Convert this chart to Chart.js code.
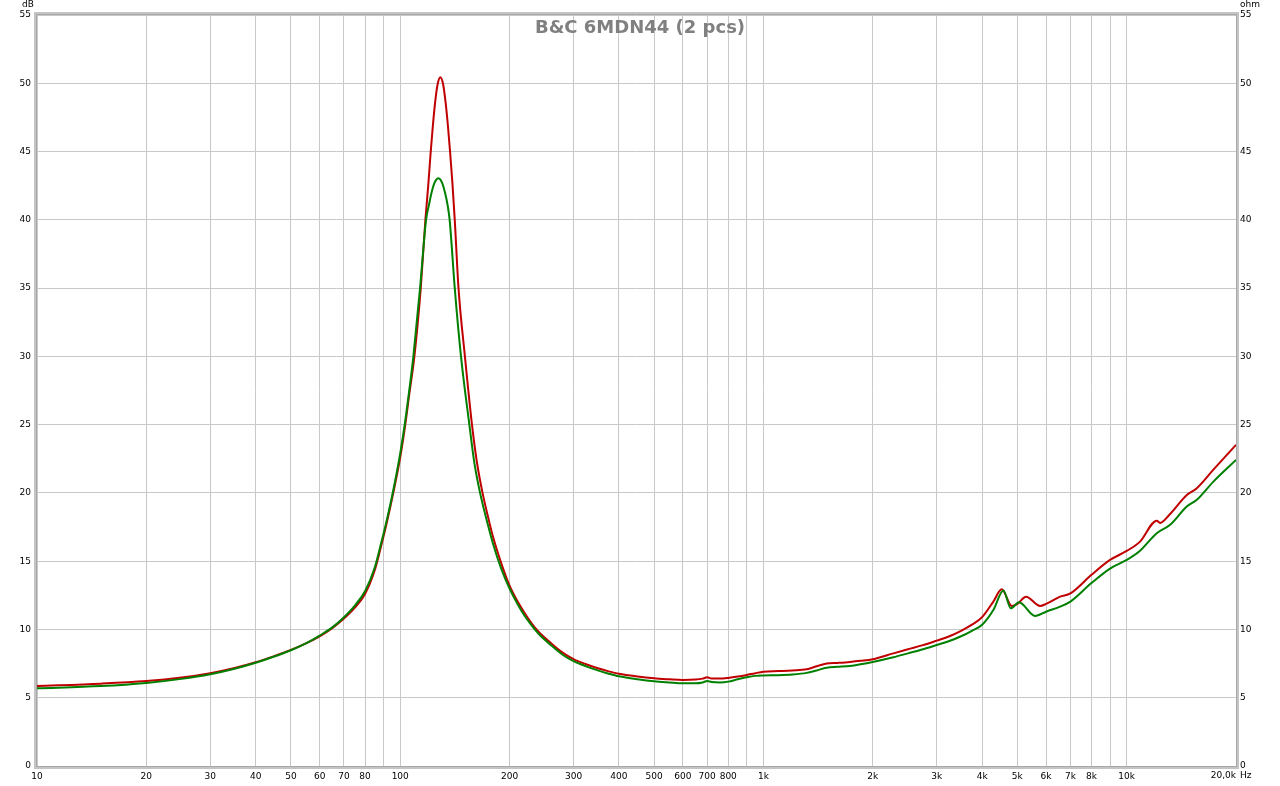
<!DOCTYPE html>
<html>
<head>
<meta charset="utf-8">
<script src="https://cdn.jsdelivr.net/npm/chart.js@4.4.0/dist/chart.umd.min.js"></script>
<style>
  body { margin: 0; background: #fff; }
  canvas { display: block; }
</style>
</head>
<body>
<canvas id="chart" width="1280" height="786"></canvas>
<script>
// impedance curves (Hz / ohm)
let redFreq = [10, 15, 20, 25, 30, 35, 40, 45, 50, 55,
  60, 65, 70, 75, 80, 85, 88, 92, 95.7, 100,
  103, 106, 109.4, 113.9, 117.3, 119.5, 121.3, 123, 124.7, 126.8,
  129, 131.2, 133.4, 135.3, 137.2, 139.3, 141.3, 144.7, 150.7, 157.6,
  162.5, 168.5, 175, 180, 190, 200, 210, 220, 230, 240,
  260, 280, 300, 325, 350, 375, 400, 450, 500, 550,
  600, 650, 680, 700, 720, 760, 800, 850, 900, 950,
  1000, 1100, 1200, 1315, 1400, 1494, 1600, 1732, 1850, 2000,
  2279, 2500, 2750, 3000, 3250, 3500, 3750, 4000, 4295, 4529,
  4829, 5000, 5284, 5776, 6000, 6556, 7000, 8000, 9000, 10000,
  10886, 12100, 12360, 13170, 14640, 15600, 17330, 20000];
let redVals = [5.86, 6.03, 6.22, 6.48, 6.8, 7.18, 7.6, 8.05, 8.5, 8.98,
  9.5, 10.1, 10.8, 11.6, 12.6, 14.3, 15.8, 17.9, 20.0, 22.6,
  24.8, 27.3, 30, 35, 40, 42.6, 44.95, 46.9, 48.55, 49.95,
  50.45, 49.95, 48.55, 46.9, 44.95, 42.6, 40, 35, 30, 25,
  22.3, 20, 18.1, 16.8, 14.8, 13.2, 12.1, 11.2, 10.45, 9.85,
  9.0, 8.3, 7.82, 7.45, 7.16, 6.93, 6.75, 6.55, 6.42, 6.35,
  6.3, 6.33, 6.4, 6.5, 6.4, 6.4, 6.45, 6.55, 6.67, 6.8,
  6.9, 6.95, 7.0, 7.08, 7.3, 7.5, 7.55, 7.62, 7.7, 7.82,
  8.25, 8.55, 8.85, 9.18, 9.5, 9.9, 10.35, 10.9, 12.04, 12.94,
  11.72, 11.87, 12.4, 11.72, 11.87, 12.4, 12.64, 14.0, 15.09, 15.75,
  16.43, 17.97, 17.8, 18.46, 19.85, 20.34, 21.7, 23.52];

let greenFreq = [10, 15, 20, 25, 30, 35, 40, 45, 50, 55,
  60, 65, 70, 75, 80, 85, 88, 92, 95.7, 100,
  103, 106, 108.7, 113.4, 117.8, 120, 122, 124, 125.7, 127.3,
  129, 130.7, 132.8, 135, 136.8, 141.3, 147, 155, 160, 165.9,
  175, 180, 190, 200, 210, 220, 230, 240, 260, 280,
  300, 325, 350, 375, 400, 450, 500, 550, 600, 650,
  680, 700, 720, 760, 800, 850, 900, 950, 1000, 1100,
  1200, 1315, 1400, 1494, 1600, 1732, 1850, 2000, 2279, 2500,
  2750, 3000, 3250, 3500, 3750, 4000, 4295, 4577, 4800, 5054,
  5596, 6000, 6556, 7000, 8000, 9000, 10000, 10886, 12100, 13170,
  14640, 15600, 17330, 20000];
let greenVals = [5.69, 5.85, 6.08, 6.38, 6.72, 7.12, 7.56, 8.02, 8.48, 8.98,
  9.55, 10.15, 10.9, 11.75, 12.8, 14.5, 16.0, 18.1, 20.2, 22.9,
  25.1, 27.6, 30, 35, 40, 41.1, 42.0, 42.65, 42.95, 43.05,
  42.95, 42.65, 42.0, 41.1, 40, 35, 30, 25, 22.2, 20,
  17.5, 16.3, 14.4, 13.0, 11.9, 11.0, 10.3, 9.7, 8.85, 8.15,
  7.68, 7.3, 7.0, 6.76, 6.57, 6.35, 6.2, 6.12, 6.06, 6.06,
  6.12, 6.23, 6.15, 6.12, 6.18, 6.35, 6.5, 6.6, 6.63, 6.65,
  6.7, 6.82, 7.0, 7.2, 7.26, 7.33, 7.45, 7.62, 7.96, 8.25,
  8.55, 8.86, 9.15, 9.5, 9.9, 10.35, 11.43, 12.85, 11.55, 12.0,
  10.99, 11.3, 11.67, 12.04, 13.4, 14.46, 15.09, 15.77, 17.05, 17.66,
  19.0, 19.49, 20.83, 22.42];

let xTicks = [10, 20, 30, 40, 50, 60, 70, 80, 90, 100, 200, 300, 400, 500, 600, 700, 800, 900,
  1000, 2000, 3000, 4000, 5000, 6000, 7000, 8000, 9000, 10000, 20000];
let xLabels = ['10', '20', '30', '40', '50', '60', '70', '80', '', '100', '200', '300', '400', '500', '600', '700', '800', '',
  '1k', '2k', '3k', '4k', '5k', '6k', '7k', '8k', '', '10k', ''];

let title = 'B&C 6MDN44 (2 pcs)';
let tickFont = { family: 'DejaVu Sans', size: 9 };

function pts(fs, vs){
  return fs.map((f, i) => ({ x: f, y: vs[i] }));
}

// frame, title, unit labels
let decor = {
  id: 'decor',
  afterDraw(chart){
    let c = chart.ctx;
    let a = chart.chartArea;
    c.save();
    c.strokeStyle = '#c4c4c4';
    c.lineWidth = 3;
    c.strokeRect(a.left - 1.5, a.top - 1.5, a.right - a.left + 3, a.bottom - a.top + 3);
    c.strokeStyle = '#a8a8a8';
    c.lineWidth = 1;
    c.strokeRect(a.left - 0.5, a.top - 0.5, a.right - a.left + 1, a.bottom - a.top + 1);

    c.fillStyle = '#808080';
    c.font = 'bold 18px "DejaVu Sans"';
    c.textAlign = 'center';
    c.textBaseline = 'middle';
    c.fillText(title, 640, 28);

    c.fillStyle = '#000';
    c.font = '9px "DejaVu Sans"';
    c.textAlign = 'left';
    c.fillText('dB', 22, 5);
    c.fillText('ohm', 1240, 5);

    let x20k = chart.scales.x.getPixelForValue(20000);
    c.textAlign = 'right';
    c.fillText('20,0k', x20k, 776);
    c.textAlign = 'left';
    c.fillText('Hz', x20k + 4, 776);
    c.restore();
  }
};

let ctx = document.getElementById('chart').getContext('2d');
let chart = new Chart(ctx, {
  type: 'line',
  data: {
    datasets: [
      {
        label: 'green',
        data: pts(greenFreq, greenVals),
        borderColor: '#008000',
        borderWidth: 2,
        pointRadius: 0,
        cubicInterpolationMode: 'monotone',
        yAxisID: 'y'
      },
      {
        label: 'red',
        data: pts(redFreq, redVals),
        borderColor: '#c00000',
        borderWidth: 2,
        pointRadius: 0,
        cubicInterpolationMode: 'monotone',
        yAxisID: 'y'
      }
    ]
  },
  options: {
    responsive: false,
    animation: false,
    devicePixelRatio: 1,
    layout: { padding: { top: 15, left: 0, right: 0, bottom: 0 } },
    plugins: {
      legend: { display: false },
      tooltip: { enabled: false }
    },
    scales: {
      x: {
        type: 'logarithmic',
        min: 10,
        max: 20000,
        afterBuildTicks: axis => { axis.ticks = xTicks.map(v => ({ value: v })); },
        afterFit: axis => { axis.height = 20; },
        grid: { color: '#c8c8c8', lineWidth: 1, drawTicks: false },
        border: { display: false },
        ticks: {
          autoSkip: false,
          maxRotation: 0,
          padding: 5,
          color: '#000',
          font: tickFont,
          callback: (v, i) => xLabels[i]
        }
      },
      y: {
        position: 'left',
        min: 0,
        max: 55,
        afterFit: axis => { axis.width = 37; },
        grid: { color: '#c8c8c8', lineWidth: 1, drawTicks: false },
        border: { display: false },
        ticks: { stepSize: 5, padding: 6, color: '#000', font: tickFont }
      },
      y2: {
        position: 'right',
        min: 0,
        max: 55,
        afterFit: axis => { axis.width = 44; },
        grid: { display: false, drawTicks: false },
        border: { display: false },
        ticks: { stepSize: 5, padding: 4, color: '#000', font: tickFont }
      }
    }
  },
  plugins: [decor]
});
</script>
</body>
</html>
